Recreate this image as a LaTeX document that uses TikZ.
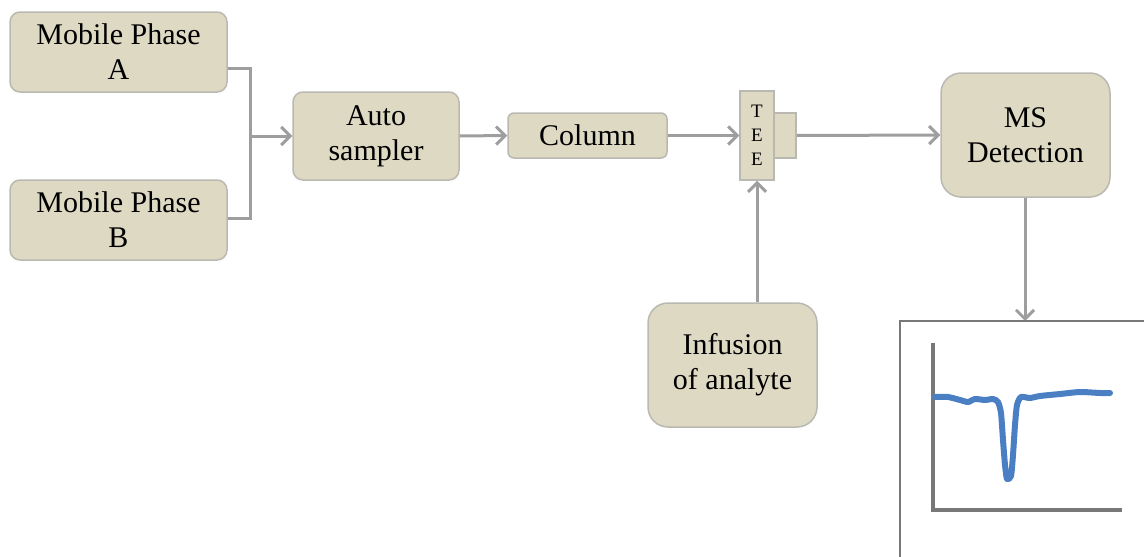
\documentclass[tikz,border=0pt]{standalone}
\usepackage{fontspec}
\setmainfont{Liberation Serif}
\usetikzlibrary{arrows.meta,calc}
\definecolor{boxfill}{RGB}{221,217,195}
\definecolor{boxline}{RGB}{185,185,178}
\definecolor{conn}{RGB}{158,158,158}
\definecolor{axis}{RGB}{120,120,120}
\definecolor{trace}{RGB}{74,127,196}
\tikzset{
  box/.style={draw=boxline, line width=1.5pt, fill=boxfill, rounded corners=10pt, align=center,
    font=\fontsize{30}{35}\selectfont, inner sep=0pt},
  bigbox/.style={box, rounded corners=20pt},
  conn/.style={draw=conn, line width=3pt},
  arr/.style={conn, -{Straight Barb[length=9pt,width=18pt,line width=3pt]}},
}
\begin{document}
\begin{tikzpicture}[x=1pt,y=-1pt]
\useasboundingbox (0,0) rectangle (1144,557);
\node[box, minimum width=217pt, minimum height=80pt] (A) at (118.5,52) {Mobile Phase\\A};
\node[box, minimum width=217pt, minimum height=80pt] (B) at (118.5,220) {Mobile Phase\\B};
\node[box, minimum width=166pt, minimum height=88pt] (auto) at (376,136) {Auto\\sampler};
\node[box, rounded corners=6pt, minimum width=159pt, minimum height=45pt] (col) at (587.5,135.5) {Column};
\node[box, rounded corners=0pt, minimum width=22pt, minimum height=45pt] (teeside) at (785,135.5) {};
\node[box, rounded corners=0pt, minimum width=34pt, minimum height=89pt, font=\fontsize{19}{24}\selectfont] (tee) at (757,135.5) {T\\E\\E};
\node[bigbox, minimum width=169pt, minimum height=124pt] (ms) at (1025.5,135) {MS\\Detection};
\node[bigbox, minimum width=169pt, minimum height=124pt] (inf) at (732.5,365) {Infusion\\of analyte};
\coordinate (ja) at (250,68);
\coordinate (jb) at (250,218);
\coordinate (j) at (250,136);
\draw[conn] (A.east |- ja) -- (ja) -- (jb) -- (B.east |- jb);
\draw[arr] (j) -- (auto.west);
\draw[arr] (auto.east) -- (col.west);
\draw[arr] (col.east) -- (tee.west);
\draw[arr] (teeside.east) -- (ms.west);
\draw[arr] (inf.north -| tee.south) -- (tee.south);
\coordinate (ftop) at (1025,321);
\draw[arr] (ms.south -| ftop) -- (ftop);
% chart frame
\draw[draw=axis, line width=1.5pt] (900,557) -- (900,321) -- (1144,321);
\draw[draw=axis, line width=4.5pt] (933,343) -- (933,510) -- (1122,510);
\draw[draw=trace, line width=6pt, line cap=round, line join=round]
 plot[smooth, tension=0.4] coordinates {(935,397) (948,397) (960,400) (968,402) (975,399) (985,400) (993,399) (998,402) (1001,413) (1003,440) (1005,465) (1007,479) (1011,476) (1013,455) (1015,425) (1017,405) (1021,397) (1030,398) (1040,396) (1060,394) (1080,392) (1100,393) (1110,393)};
\end{tikzpicture}
\end{document}
